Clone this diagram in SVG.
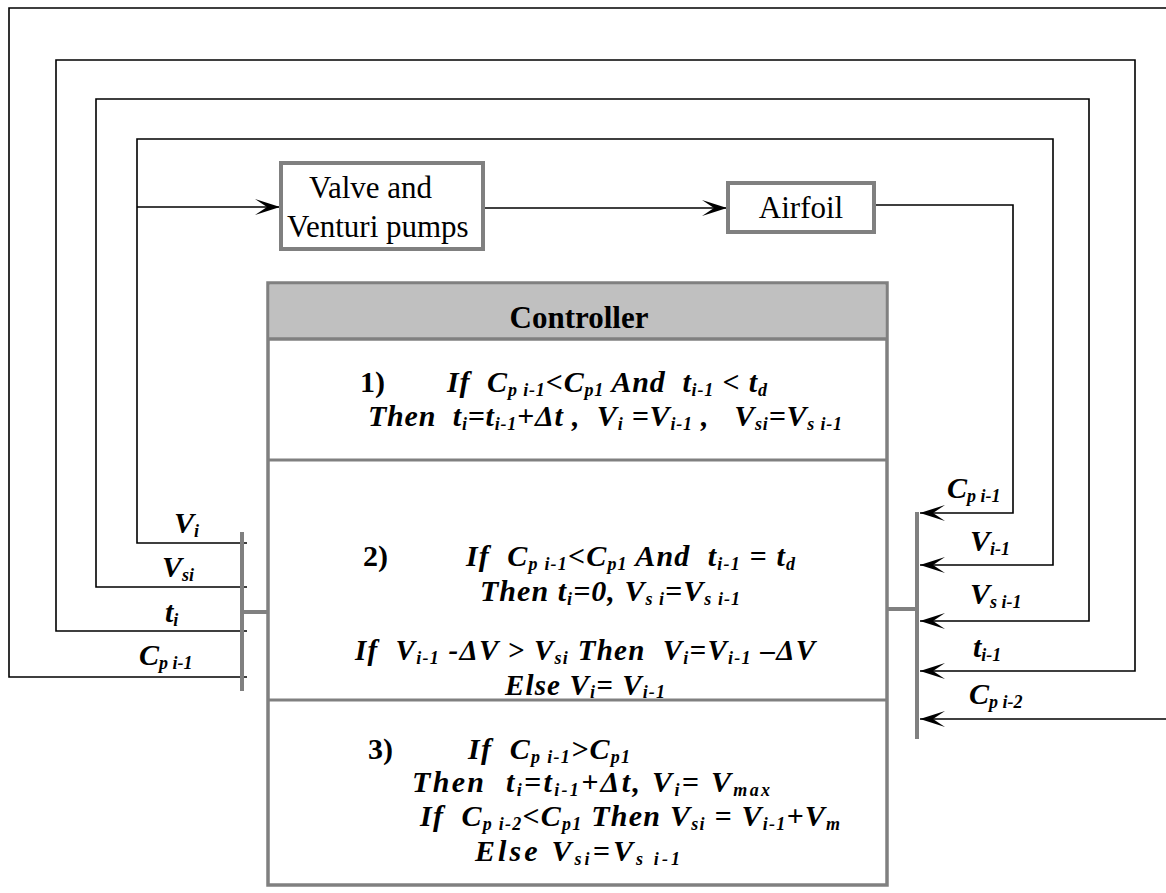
<svg xmlns="http://www.w3.org/2000/svg" width="1166" height="893" viewBox="0 0 1166 893" font-family="Liberation Serif, serif">
<style>
.ln{fill:none;stroke:#000;stroke-width:1.6}
.bus{fill:none;stroke:#808080;stroke-width:4}
.box{fill:#fff;stroke:#808080;stroke-width:4}
.t{font-family:Liberation Serif,serif;font-weight:bold;font-style:italic;font-size:30px;white-space:pre}
.t2{font-size:29px}
.n{font-family:Liberation Serif,serif;font-weight:bold;font-size:30px}
.s{font-size:18px}
.r{font-family:Liberation Serif,serif;font-size:31px}
.h{font-family:Liberation Serif,serif;font-weight:bold;font-size:31px}
</style>
<defs>
<marker id="ar" markerUnits="userSpaceOnUse" markerWidth="30" markerHeight="20" refX="25" refY="8" orient="auto">
<path d="M0,0 L25,8 L0,16 L12,8 Z" fill="#000"/>
</marker>
</defs>
<rect width="1166" height="893" fill="#fff"/>
<g id="connectors">
<polyline class="ln" points="247,677 9,677 9,8 1166,8"/>
<polyline class="ln" points="247,631 56,631 56,60 1135,60 1135,671 920,671" marker-end="url(#ar)"/>
<polyline class="ln" points="247,587 96,587 96,99 1089,99 1089,621 920,621" marker-end="url(#ar)"/>
<polyline class="ln" points="247,543 137,543 137,139 1053,139 1053,565 920,565" marker-end="url(#ar)"/>
<line class="ln" x1="137" y1="207" x2="280" y2="207" marker-end="url(#ar)"/>
<line class="ln" x1="483" y1="208" x2="727" y2="208" marker-end="url(#ar)"/>
<polyline class="ln" points="875,205 1013,205 1013,513 920,513" marker-end="url(#ar)"/>
<line class="ln" x1="1166" y1="719" x2="920" y2="719" marker-end="url(#ar)"/>
<line class="bus" x1="242" y1="532" x2="242" y2="691"/>
<line class="bus" x1="242" y1="612" x2="268" y2="612"/>
<line class="bus" x1="917" y1="512" x2="917" y2="739"/>
<line class="bus" x1="887" y1="609" x2="917" y2="609"/>
</g>
<g id="valve">
<rect class="box" x="281" y="163" width="202" height="86"/>
<text class="r" x="309" y="198">Valve and</text>
<text class="r" x="287" y="237">Venturi pumps</text>
</g>
<g id="airfoil">
<rect class="box" x="728" y="183" width="146" height="49"/>
<text class="r" x="801" y="218" text-anchor="middle">Airfoil</text>
</g>
<g id="controller">
<rect x="268" y="283" width="619" height="602" fill="#fff" stroke="#808080" stroke-width="3.5"/>
<rect x="269.5" y="284.5" width="616" height="54" fill="#c0c0c0"/>
<line x1="268" y1="339" x2="887" y2="339" stroke="#808080" stroke-width="3.5"/>
<line x1="268" y1="460" x2="887" y2="460" stroke="#808080" stroke-width="3"/>
<line x1="268" y1="700" x2="887" y2="700" stroke="#808080" stroke-width="3"/>
<text class="h" x="579" y="328" text-anchor="middle">Controller</text>
<text class="n" x="360" y="392">1)</text>
<text class="t" x="447" y="392" textLength="320" lengthAdjust="spacing">If  C<tspan class="s" dy="4">p i-1</tspan><tspan dy="-4">&lt;C</tspan><tspan class="s" dy="4">p1</tspan><tspan dy="-4"> And  t</tspan><tspan class="s" dy="4">i-1</tspan><tspan dy="-4"> &lt; t</tspan><tspan class="s" dy="4">d</tspan></text>
<text class="t" x="368" y="426" textLength="474" lengthAdjust="spacing">Then  t<tspan class="s" dy="4">i</tspan><tspan dy="-4">=t</tspan><tspan class="s" dy="4">i-1</tspan><tspan dy="-4">+Δt ,  V</tspan><tspan class="s" dy="4">i</tspan><tspan dy="-4"> =V</tspan><tspan class="s" dy="4">i-1</tspan><tspan dy="-4"> ,   V</tspan><tspan class="s" dy="4">si</tspan><tspan dy="-4">=V</tspan><tspan class="s" dy="4">s i-1</tspan></text>
<text class="n" x="363" y="566">2)</text>
<text class="t" x="466" y="566" textLength="329" lengthAdjust="spacing">If  C<tspan class="s" dy="4">p i-1</tspan><tspan dy="-4">&lt;C</tspan><tspan class="s" dy="4">p1</tspan><tspan dy="-4"> And  t</tspan><tspan class="s" dy="4">i-1</tspan><tspan dy="-4"> = t</tspan><tspan class="s" dy="4">d</tspan></text>
<text class="t" x="480" y="601" textLength="260" lengthAdjust="spacing">Then t<tspan class="s" dy="4">i</tspan><tspan dy="-4">=0, V</tspan><tspan class="s" dy="4">s i</tspan><tspan dy="-4">=V</tspan><tspan class="s" dy="4">s i-1</tspan></text>
<text class="t t2" x="355" y="660" textLength="460" lengthAdjust="spacing">If  V<tspan class="s" dy="4">i-1</tspan><tspan dy="-4"> -ΔV &gt; V</tspan><tspan class="s" dy="4">si</tspan><tspan dy="-4"> Then  V</tspan><tspan class="s" dy="4">i</tspan><tspan dy="-4">=V</tspan><tspan class="s" dy="4">i-1</tspan><tspan dy="-4"> –ΔV</tspan></text>
<text class="t t2" x="505" y="695" textLength="160" lengthAdjust="spacing">Else V<tspan class="s" dy="3">i</tspan><tspan dy="-3">= V</tspan><tspan class="s" dy="3">i-1</tspan></text>
<text class="n" x="368" y="759">3)</text>
<text class="t" x="468" y="759" textLength="162" lengthAdjust="spacing">If  C<tspan class="s" dy="4">p i-1</tspan><tspan dy="-4">&gt;C</tspan><tspan class="s" dy="4">p1</tspan></text>
<text class="t" x="412" y="792" textLength="358" lengthAdjust="spacing">Then  t<tspan class="s" dy="4">i</tspan><tspan dy="-4">=t</tspan><tspan class="s" dy="4">i-1</tspan><tspan dy="-4">+Δt, V</tspan><tspan class="s" dy="4">i</tspan><tspan dy="-4">= V</tspan><tspan class="s" dy="4">max</tspan></text>
<text class="t" x="420" y="826" textLength="420" lengthAdjust="spacing">If  C<tspan class="s" dy="4">p i-2</tspan><tspan dy="-4">&lt;C</tspan><tspan class="s" dy="4">p1</tspan><tspan dy="-4"> Then V</tspan><tspan class="s" dy="4">si</tspan><tspan dy="-4"> = V</tspan><tspan class="s" dy="4">i-1</tspan><tspan dy="-4">+V</tspan><tspan class="s" dy="4">m</tspan></text>
<text class="t" x="475" y="861" textLength="205" lengthAdjust="spacing">Else V<tspan class="s" dy="4">si</tspan><tspan dy="-4">=V</tspan><tspan class="s" dy="4">s i-1</tspan></text>
</g>
<g id="left-labels">
<text class="t" x="174" y="533">V<tspan class="s" dy="4">i</tspan></text>
<text class="t" x="162" y="577">V<tspan class="s" dy="4">si</tspan></text>
<text class="t" x="165" y="622">t<tspan class="s" dy="4">i</tspan></text>
<text class="t" x="139" y="665">C<tspan class="s" dy="4">p i-1</tspan></text>
</g>
<g id="right-labels">
<text class="t" x="947" y="498">C<tspan class="s" dy="4">p i-1</tspan></text>
<text class="t" x="970" y="551">V<tspan class="s" dy="4">i-1</tspan></text>
<text class="t" x="970" y="604">V<tspan class="s" dy="4">s i-1</tspan></text>
<text class="t" x="973" y="657">t<tspan class="s" dy="4">i-1</tspan></text>
<text class="t" x="969" y="704">C<tspan class="s" dy="4">p i-2</tspan></text>
</g>
</svg>
